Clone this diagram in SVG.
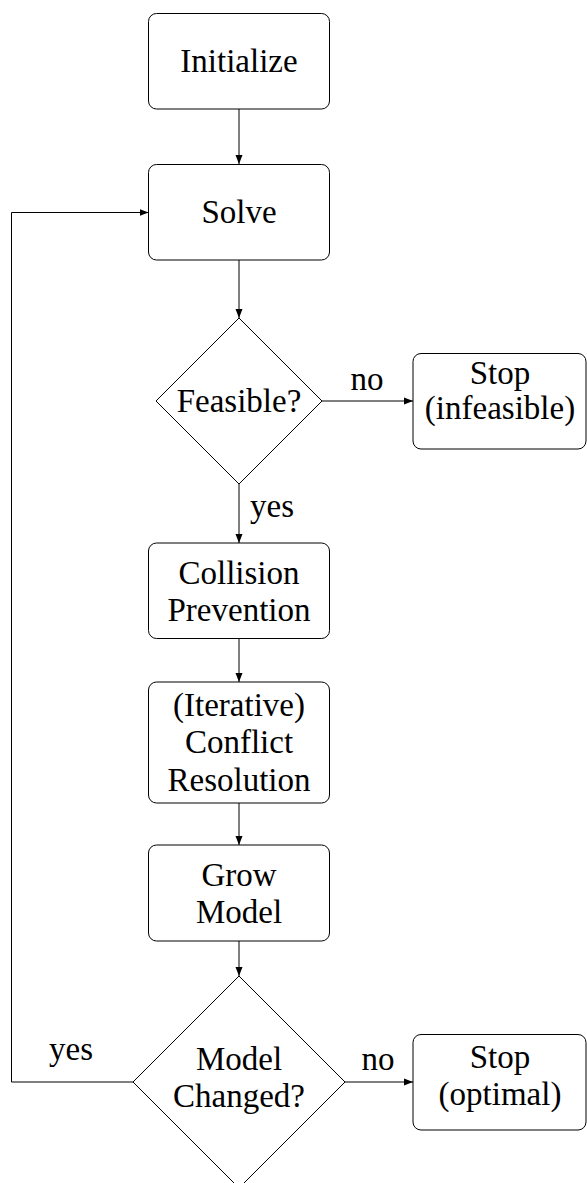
<svg xmlns="http://www.w3.org/2000/svg" width="587" height="1183" viewBox="0 0 587 1183">
<style>
.box{fill:#fff;stroke:#000;stroke-width:1}
.dia{fill:#fff;stroke:#000;stroke-width:1}
.c{fill:none;stroke:#000;stroke-width:1}
</style>
<defs>
<marker id="ah" markerUnits="userSpaceOnUse" markerWidth="10" markerHeight="8" refX="9" refY="4" orient="auto">
<path d="M0,0.5 L9,4 L0,7.5 z" fill="#000"/>
</marker>
</defs>
<rect width="587" height="1183" fill="#fff"/>
<g id="connectors">
<line class="c" x1="239" y1="109" x2="239" y2="164" marker-end="url(#ah)"/>
<line class="c" x1="239" y1="260" x2="239" y2="318" marker-end="url(#ah)"/>
<line class="c" x1="322" y1="401" x2="413" y2="401" marker-end="url(#ah)"/>
<line class="c" x1="239" y1="484" x2="239" y2="543" marker-end="url(#ah)"/>
<line class="c" x1="239" y1="638" x2="239" y2="682" marker-end="url(#ah)"/>
<line class="c" x1="239" y1="803" x2="239" y2="845" marker-end="url(#ah)"/>
<line class="c" x1="239" y1="941" x2="239" y2="976" marker-end="url(#ah)"/>
<line class="c" x1="345" y1="1082" x2="413" y2="1082" marker-end="url(#ah)"/>
<polyline class="c" points="133,1082 11.5,1082 11.5,212.5 148.5,212.5" marker-end="url(#ah)"/>
<text font-family="Liberation Serif" font-size="33" x="367" y="390" text-anchor="middle">no</text>
<text font-family="Liberation Serif" font-size="33" x="250" y="517">yes</text>
<text font-family="Liberation Serif" font-size="33" x="378" y="1070" text-anchor="middle">no</text>
<text font-family="Liberation Serif" font-size="33" x="71" y="1060" text-anchor="middle">yes</text>
</g>
<g id="initialize">
<rect class="box" x="148.5" y="13.5" width="181" height="95.5" rx="8"/>
<text font-family="Liberation Serif" font-size="33" text-anchor="middle" x="239" y="72">Initialize</text>
</g>
<g id="solve">
<rect class="box" x="148.5" y="164.5" width="181" height="95.5" rx="8"/>
<text font-family="Liberation Serif" font-size="33" text-anchor="middle" x="239" y="223">Solve</text>
</g>
<g id="feasible">
<polygon class="dia" points="239,318 322,401 239,484 156,401"/>
<text font-family="Liberation Serif" font-size="33" text-anchor="middle" x="239" y="412">Feasible?</text>
</g>
<g id="stop-infeasible">
<rect class="box" x="413" y="353.5" width="173" height="95.5" rx="8"/>
<text font-family="Liberation Serif" font-size="33" text-anchor="middle" x="500" y="384">Stop</text>
<text font-family="Liberation Serif" font-size="33" text-anchor="middle" x="500" y="419">(infeasible)</text>
</g>
<g id="collision">
<rect class="box" x="148.5" y="543" width="181" height="95.5" rx="8"/>
<text font-family="Liberation Serif" font-size="33" text-anchor="middle" x="239" y="584">Collision</text>
<text font-family="Liberation Serif" font-size="33" text-anchor="middle" x="239" y="621">Prevention</text>
</g>
<g id="conflict">
<rect class="box" x="148.5" y="682" width="181" height="121" rx="8"/>
<text font-family="Liberation Serif" font-size="33" text-anchor="middle" x="239" y="716">(Iterative)</text>
<text font-family="Liberation Serif" font-size="33" text-anchor="middle" x="239" y="753">Conflict</text>
<text font-family="Liberation Serif" font-size="33" text-anchor="middle" x="239" y="791">Resolution</text>
</g>
<g id="grow">
<rect class="box" x="148.5" y="845" width="181" height="96" rx="8"/>
<text font-family="Liberation Serif" font-size="33" text-anchor="middle" x="239" y="886">Grow</text>
<text font-family="Liberation Serif" font-size="33" text-anchor="middle" x="239" y="923">Model</text>
</g>
<g id="model-changed">
<polygon class="dia" points="239,976 345,1082 239,1188 133,1082"/>
<text font-family="Liberation Serif" font-size="33" text-anchor="middle" x="239" y="1070">Model</text>
<text font-family="Liberation Serif" font-size="33" text-anchor="middle" x="239" y="1107">Changed?</text>
</g>
<g id="stop-optimal">
<rect class="box" x="413" y="1034.5" width="173" height="95.5" rx="8"/>
<text font-family="Liberation Serif" font-size="33" text-anchor="middle" x="500" y="1068">Stop</text>
<text font-family="Liberation Serif" font-size="33" text-anchor="middle" x="500" y="1105">(optimal)</text>
</g>
</svg>
